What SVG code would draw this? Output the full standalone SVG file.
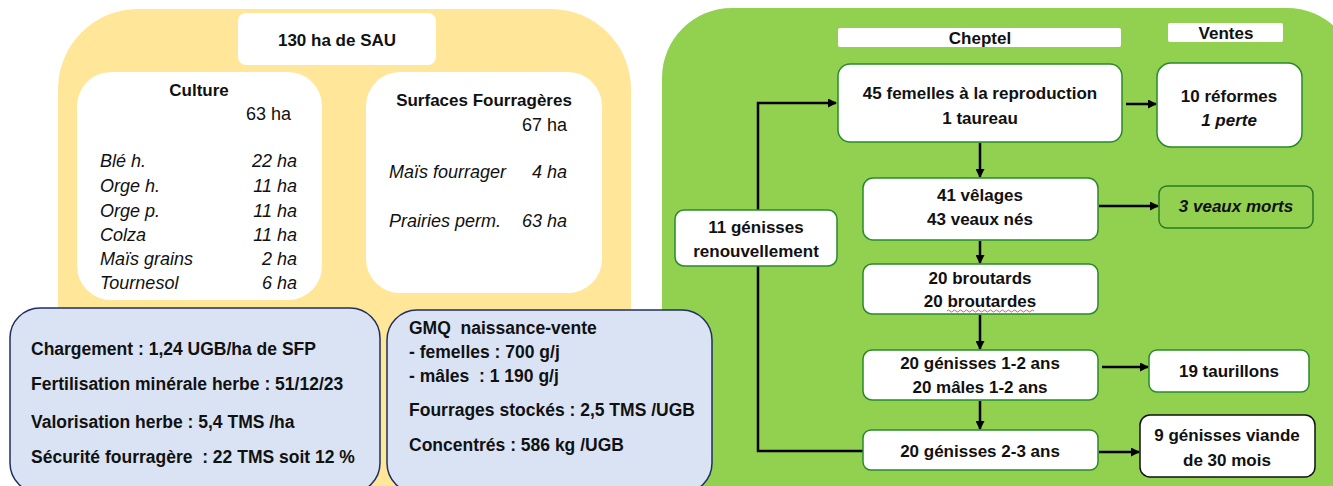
<svg xmlns="http://www.w3.org/2000/svg" width="1333" height="486" viewBox="0 0 1333 486">
<defs>
<style>
text{font-family:"Liberation Sans",Arial,sans-serif;fill:#111;}
.b{font-weight:bold;font-size:17px;}
.bb{font-weight:bold;font-size:17.5px;white-space:pre;}
.r{font-size:18px;}
.i{font-style:italic;font-size:18px;}
.ib{font-style:italic;font-weight:bold;font-size:17px;}
.m{text-anchor:middle;}
.e{text-anchor:end;}
.wbox{fill:#fff;}
.node{fill:#fff;stroke:#2a8a2a;stroke-width:1.5;}
.blue{fill:#dae3f3;stroke:#1f2f5f;stroke-width:1.5;}
.conn{stroke:#000;stroke-width:2.5;fill:none;}
</style>
<marker id="ah" markerWidth="9" markerHeight="9" refX="8" refY="4.5" orient="auto" markerUnits="userSpaceOnUse" viewBox="0 0 9 9">
<path d="M0,0 L9,4.5 L0,9 z" fill="#000"/>
</marker>
</defs>

<!-- yellow SAU panel -->
<g id="sau">
<rect x="58" y="9" width="573" height="520" rx="80" fill="#ffe699"/>
<rect x="238" y="13" width="198" height="52" rx="8" class="wbox"/>
<text x="337" y="46" class="b m">130 ha de SAU</text>
</g>
<g id="culture">
<rect x="77" y="72" width="245" height="228" rx="34" class="wbox"/>
<text x="199" y="96" class="b m">Culture</text>
<text x="291" y="120" class="r e">63 ha</text>
<text x="100" y="167" class="i">Blé h.</text><text x="297" y="167" class="i e">22 ha</text>
<text x="100" y="192" class="i">Orge h.</text><text x="297" y="192" class="i e">11 ha</text>
<text x="100" y="217" class="i">Orge p.</text><text x="297" y="217" class="i e">11 ha</text>
<text x="100" y="241" class="i">Colza</text><text x="297" y="241" class="i e">11 ha</text>
<text x="100" y="265" class="i">Maïs grains</text><text x="297" y="265" class="i e">2 ha</text>
<text x="100" y="289" class="i">Tournesol</text><text x="297" y="289" class="i e">6 ha</text>
</g>
<g id="surfaces">
<rect x="366" y="72" width="236" height="221" rx="34" class="wbox"/>
<text x="484" y="106" class="b m">Surfaces Fourragères</text>
<text x="567" y="131" class="r e">67 ha</text>
<text x="389" y="178" class="i">Maïs fourrager</text><text x="567" y="178" class="i e">4 ha</text>
<text x="389" y="227" class="i">Prairies perm.</text><text x="567" y="227" class="i e">63 ha</text>
</g>

<!-- green cheptel panel -->
<g id="cheptel-panel">
<rect x="662" y="8" width="695" height="500" rx="70" fill="#92d050"/>
<rect x="838" y="28" width="283" height="19" rx="2" class="wbox"/>
<text x="980" y="44" class="b m">Cheptel</text>
<rect x="1168" y="23" width="115" height="19" rx="2" class="wbox"/>
<text x="1226" y="39" class="b m">Ventes</text>
</g>

<!-- blue info boxes -->
<g id="info1">
<rect x="10" y="308" width="370" height="185" rx="30" class="blue"/>
<text x="31" y="355" class="bb">Chargement : 1,24 UGB/ha de SFP</text>
<text x="31" y="390" class="bb">Fertilisation minérale herbe : 51/12/23</text>
<text x="31" y="428" class="bb">Valorisation herbe : 5,4 TMS /ha</text>
<text x="31" y="463" class="bb">Sécurité fourragère  : 22 TMS soit 12 %</text>
</g>
<g id="info2">
<rect x="387" y="310" width="325" height="183" rx="30" class="blue"/>
<text x="409" y="334" class="bb">GMQ  naissance-vente</text>
<text x="409" y="358" class="bb">- femelles : 700 g/j</text>
<text x="409" y="382" class="bb">- mâles  : 1 190 g/j</text>
<text x="409" y="416" class="bb">Fourrages stockés : 2,5 TMS /UGB</text>
<text x="409" y="451" class="bb">Concentrés : 586 kg /UGB</text>
</g>

<!-- connectors -->
<g id="connectors">
<path class="conn" d="M863,451 H758 V103 H836" marker-end="url(#ah)"/>
<path class="conn" d="M980,143 V177" marker-end="url(#ah)"/>
<path class="conn" d="M980,241 V263" marker-end="url(#ah)"/>
<path class="conn" d="M980,315 V349" marker-end="url(#ah)"/>
<path class="conn" d="M980,401 V429" marker-end="url(#ah)"/>
<path class="conn" d="M1126,104 H1156" marker-end="url(#ah)"/>
<path class="conn" d="M1099,206 H1158" marker-end="url(#ah)"/>
<path class="conn" d="M1102,367 H1148" marker-end="url(#ah)"/>
<path class="conn" d="M1099,452 H1139" marker-end="url(#ah)"/>
</g>

<!-- nodes -->
<g id="n-femelles">
<rect x="838" y="64" width="284" height="78" rx="12" class="node"/>
<text x="980" y="99" class="b m">45 femelles à la reproduction</text>
<text x="980" y="124" class="b m">1 taureau</text>
</g>
<g id="n-reformes">
<rect x="1157" y="63" width="145" height="84" rx="14" class="node"/>
<text x="1229" y="102" class="b m">10 réformes</text>
<text x="1229" y="126" class="ib m">1 perte</text>
</g>
<g id="n-velages">
<rect x="863" y="178" width="235" height="62" rx="10" class="node"/>
<text x="980" y="201" class="b m">41 vêlages</text>
<text x="980" y="225" class="b m">43 veaux nés</text>
</g>
<g id="n-morts">
<rect x="1159" y="186" width="154" height="42" rx="8" fill="#92d050" stroke="#2a7a2a" stroke-width="1.5"/>
<text x="1236" y="212" class="ib m">3 veaux morts</text>
</g>
<g id="n-renouv">
<rect x="675" y="210" width="162" height="56" rx="9" class="node"/>
<text x="756" y="233" class="b m">11 génisses</text>
<text x="756" y="257" class="b m">renouvellement</text>
</g>
<g id="n-broutards">
<rect x="863" y="264" width="235" height="50" rx="9" class="node"/>
<text x="980" y="284" class="b m">20 broutards</text>
<text x="980" y="307" class="b m">20 broutardes</text>
<path d="M947,311 q1.5,-2 3,0 t3,0 t3,0 t3,0 t3,0 t3,0 t3,0 t3,0 t3,0 t3,0 t3,0 t3,0 t3,0 t3,0 t3,0 t3,0 t3,0 t3,0 t3,0 t3,0 t3,0 t3,0 t3,0 t3,0 t3,0 t3,0 t3,0 t3,0 t3,0" fill="none" stroke="#e03030" stroke-width="0.8"/>
</g>
<g id="n-genisses12">
<rect x="863" y="350" width="235" height="50" rx="9" class="node"/>
<text x="980" y="369" class="b m">20 génisses 1-2 ans</text>
<text x="980" y="393" class="b m">20 mâles 1-2 ans</text>
</g>
<g id="n-taurillons">
<rect x="1149" y="350" width="160" height="42" rx="8" class="node"/>
<text x="1229" y="377" class="b m">19 taurillons</text>
</g>
<g id="n-genisses23">
<rect x="863" y="430" width="235" height="40" rx="8" class="node"/>
<text x="980" y="457" class="b m">20 génisses 2-3 ans</text>
</g>
<g id="n-viande">
<rect x="1140" y="415" width="175" height="62" rx="10" fill="#fff" stroke="#111" stroke-width="1.5"/>
<text x="1227" y="441" class="b m">9 génisses viande</text>
<text x="1227" y="466" class="b m">de 30 mois</text>
</g>
</svg>
